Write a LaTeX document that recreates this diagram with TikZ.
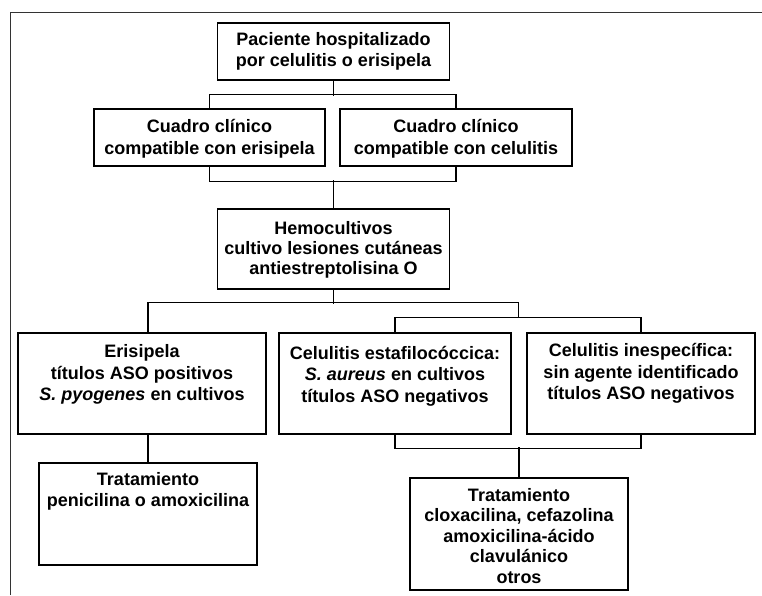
\documentclass[tikz,border=0pt]{standalone}
\usepackage{fontspec}
\setmainfont{Liberation Sans}
\begin{document}
\begin{tikzpicture}[x=1pt,y=-1pt,
  box/.style={draw, line width=1.1pt, inner sep=0pt},
  txt/.style={align=center, font=\bfseries\fontsize{18}{21.5}\selectfont, inner sep=0pt},
  conn/.style={line width=1.1pt},
  frame/.style={line width=1pt, draw=black!80}]
\useasboundingbox (0,0) rectangle (762,595);
\draw[frame] (10,595) -- (10,12) -- (762,12);

% level 1
\node[box, minimum width=232pt, minimum height=57pt] (top) at (333.5,51.5) {};
\node[txt] (topT) at (top.center) {Paciente hospitalizado\\por celulitis o erisipela};

% level 2
\node[box, minimum width=231pt, minimum height=57pt] (c1) at (209.5,137.5) {};
\node[txt] (c1T) at (209.5,139) {Cuadro clínico\\compatible con erisipela};
\node[box, minimum width=232pt, minimum height=57pt] (c2) at (456,137.5) {};
\node[txt] (c2T) at (456,139) {Cuadro clínico\\compatible con celulitis};

% level 3
\node[box, minimum width=232pt, minimum height=80pt] (hemo) at (333.5,249) {};
\node[txt, font=\bfseries\fontsize{18}{20}\selectfont] (hemoT) at (333.5,250) {Hemocultivos\\cultivo lesiones cutáneas\\antiestreptolisina O};

% level 4
\node[box, minimum width=248pt, minimum height=101pt] (eri) at (142,383.5) {};
\node[txt] (eriT) at (142,374.5) {Erisipela\\títulos ASO positivos\\\textit{S. pyogenes} en cultivos};
\node[box, minimum width=232pt, minimum height=101pt] (esta) at (395,383.5) {};
\node[txt] (estaT) at (395,376) {Celulitis estafilocóccica:\\\textit{S. aureus} en cultivos\\títulos ASO negativos};
\node[box, minimum width=228pt, minimum height=101pt] (ines) at (641,383.5) {};
\node[txt] (inesT) at (641,373.5) {Celulitis inespecífica:\\sin agente identificado\\títulos ASO negativos};

% level 5
\node[box, minimum width=218pt, minimum height=102pt] (t1) at (148,514) {};
\node[txt] (t1T) at (148,491.5) {Tratamiento\\penicilina o amoxicilina};
\node[box, minimum width=218pt, minimum height=112pt] (t2) at (519,534) {};
\node[txt, font=\bfseries\fontsize{18}{20.5}\selectfont] (t2T) at (519,536) {Tratamiento\\cloxacilina, cefazolina\\amoxicilina-ácido\\clavulánico\\otros};

% connectors
\coordinate (j2) at (518.5,318);
\draw[conn] (top.south) -- ++(0,15);
\draw[conn] (c1.north) -- ++(0,-14) -| (c2.north);
\draw[conn] (c1.south) -- ++(0,15) -| (c2.south);
\draw[conn] (hemo.north) -- ++(0,-28);
\draw[conn] (hemo.south) -- ++(0,14);
\draw[conn] ([xshift=6pt]eri.north) -- ++(0,-30) -| (j2);
\draw[conn] (esta.north) -- ++(0,-15) -| (ines.north);
\draw[conn] ([xshift=6pt]eri.south) -- (t1.north);
\draw[conn] (esta.south) -- ++(0,14) -| (ines.south);
\draw[conn] (t2.north) -- ++(0,-30);
\end{tikzpicture}
\end{document}
